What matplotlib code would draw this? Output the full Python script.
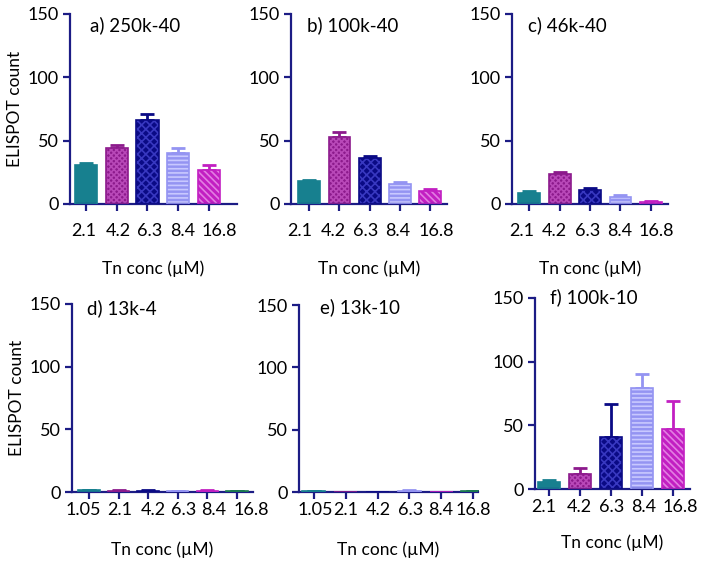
import numpy as np
import matplotlib.pyplot as plt
from matplotlib.transforms import ScaledTranslation

plt.rcParams["font.family"] = ["Lato", "DejaVu Sans"]
plt.rcParams["hatch.linewidth"] = 1.2

# data (mean ELISPOT count, upper error)
conc_top = ["2.1", "4.2", "6.3", "8.4", "16.8"]
conc_low = ["1.05", "2.1", "4.2", "6.3", "8.4", "16.8"]

a_mean = [31, 44, 66, 40, 27]
a_err = [1.5, 2.5, 5, 4.5, 3.5]
b_mean = [18, 53, 36, 16, 10]
b_err = [1, 4, 2, 1.5, 1.5]
c_mean = [8.5, 23.5, 11, 5.8, 1.8]
c_err = [2, 1.5, 2, 1.2, 0.5]
d_mean = [1.5, 1.2, 1.0, 0.6, 1.2, 0.9]
d_err = [0.3, 0.3, 0.3, 0.2, 0.3, 0.2]
e_mean = [1.0, 0, 0, 1.2, 0, 0.8]
e_err = [0.2, 0, 0, 0.3, 0, 0.2]
f_mean = [5.8, 11.9, 41, 79.4, 46.8]
f_err = [1.3, 4.5, 25.7, 11.1, 22]

# face colour, hatch colour, hatch pattern per bar slot
styles_top = [
    ("#17808f", "#2a90a0", ""),
    ("#8c1a8c", "#b848b8", "xxxxxx"),
    ("#0a0a85", "#3838c0", "xxxx"),
    ("#9494f2", "#c8c8ff", "----"),
    ("#c21fc2", "#e27ee2", "\\\\\\\\\\"),
]
styles_low = styles_top + [("#1a7a50", "#2a9060", "")]

# the tick labels sit a little off their ticks in the original (pixels)
shift_a = [-2, 2, 2, 4, 10]
shift_b = [-9, -6, -4, -2, 6]
shift_c = [-7, -5, -2, -1, 5]
shift_d = [-6, 1, 5, 6, 6, 14]
shift_e = [1, 0, 1, 1, 0, 0]
shift_f = [-5, -1, 1, 2, 7]

axcol = "#1c1c85"

panels = [
    # rect, labels, mean, err, styles, xlim, title, title pos, ylabel, tickpad, xlabelpad, shifts
    ([0.0994, 0.6396, 0.2372, 0.3357], conc_top, a_mean, a_err, styles_top,
     (-0.52, 4.91), "a) 250k-40", (0.12, 0.94), True, 9, 15, shift_a),
    ([0.4134, 0.6396, 0.2216, 0.3357], conc_top, b_mean, b_err, styles_top,
     (-0.6, 4.56), "b) 100k-40", (0.10, 0.94), False, 9, 15, shift_b),
    ([0.7273, 0.6396, 0.2216, 0.3357], conc_top, c_mean, c_err, styles_top,
     (-0.56, 4.56), "c) 46k-40", (0.10, 0.94), False, 9, 15, shift_c),
    ([0.1023, 0.1307, 0.2571, 0.3322], conc_low, d_mean, d_err, styles_low,
     (-0.57, 5.54), "d) 13k-4", (0.083, 0.98), True, 2, 17, shift_d),
    ([0.4247, 0.1307, 0.2543, 0.3304], conc_low, e_mean, e_err, styles_low,
     (-0.47, 5.16), "e) 13k-10", (0.117, 0.99), False, 2, 17, shift_e),
    ([0.7600, 0.1360, 0.2202, 0.3375], conc_top, f_mean, f_err, styles_top,
     (-0.45, 4.55), "f) 100k-10", (0.097, 1.005), False, 2, 14, shift_f),
]

fig = plt.figure(figsize=(7.04, 5.66), dpi=100)

for rect, labels, mean, err, styles, xl, title, tpos, ylab, pad, lpad, shifts in panels:
    ax = fig.add_axes(rect)
    x = np.arange(len(labels))
    for i in range(len(labels)):
        fc, hc, hatch = styles[i]
        ax.bar(x[i], mean[i], width=0.72, color=fc, edgecolor=hc,
               hatch=hatch, linewidth=0, zorder=2)
        ax.bar(x[i], mean[i], width=0.72, fill=False, edgecolor=fc,
               linewidth=1.2, zorder=3)
        if err[i] > 0:
            ax.errorbar(x[i], mean[i], yerr=[[0], [err[i]]], fmt="none",
                        ecolor=fc, elinewidth=2, capsize=5, capthick=2,
                        zorder=1)
    ax.set_xlim(*xl)
    ax.set_ylim(0, 150)
    ax.set_yticks([0, 50, 100, 150])
    ax.set_xticks(x)
    ax.set_xticklabels(labels)
    for s in ["top", "right"]:
        ax.spines[s].set_visible(False)
    for s in ["left", "bottom"]:
        ax.spines[s].set_color(axcol)
        ax.spines[s].set_linewidth(1.6)
    ax.tick_params(axis="both", colors=axcol, width=1.6, length=5,
                   labelsize=13, labelcolor="black")
    ax.tick_params(axis="x", pad=pad)
    ax.tick_params(axis="y", pad=3)
    for lab, dx in zip(ax.get_xticklabels(), shifts):
        lab.set_transform(lab.get_transform()
                          + ScaledTranslation(dx / 100, 0, fig.dpi_scale_trans))
    ax.text(tpos[0], tpos[1], title, transform=ax.transAxes, fontsize=13.5,
            ha="left", va="center")
    ax.set_xlabel("Tn conc (\u00b5M)", fontsize=12.5, labelpad=lpad)
    if ylab:
        ax.set_ylabel("ELISPOT count", fontsize=12.5, labelpad=3)

fig.savefig("out.png", dpi=100)
